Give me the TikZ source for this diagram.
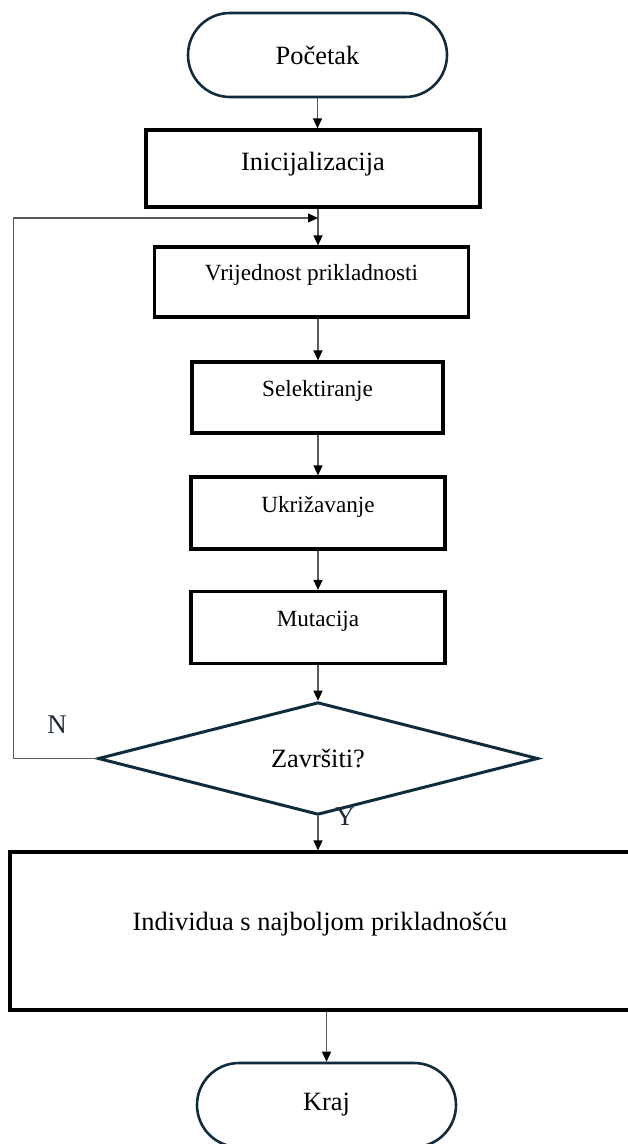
\documentclass[tikz,border=0pt]{standalone}
\usepackage{fontspec}
\setmainfont{Liberation Serif}
\usepackage{tikz}
\usetikzlibrary{shapes.geometric,arrows.meta,calc}
\definecolor{outline}{HTML}{102C3C}
\definecolor{linegray}{HTML}{5A5A5A}
\definecolor{labelink}{HTML}{1C2A3A}

\begin{document}
\begin{tikzpicture}[x=1pt,y=-1pt]
                      \tikzstyle{terminal}=[rectangle,rounded corners=42pt,draw=outline,line width=2.6pt,minimum width=259pt,minimum height=84pt,inner sep=0pt,font=\fontsize{26.4}{30}\selectfont]
                      \tikzstyle{process}=[rectangle,draw=black,line width=3.2pt,inner sep=0pt,font=\fontsize{23.2}{27}\selectfont]
                      \tikzstyle{decision}=[diamond,draw=outline,line width=3pt,minimum width=440pt,minimum height=92pt,inner sep=0pt,font=\fontsize{26.4}{30}\selectfont]
                      \tikzstyle{conn}=[draw=linegray,line width=1.3pt,-{Triangle[length=10pt,width=9pt,color=black]}]
                      \tikzstyle{answer}=[text=labelink,inner sep=0pt,font=\fontsize{27}{30}\selectfont]
                      \useasboundingbox (0,0) rectangle (627,1144);
                      \node[terminal] (start) at (317.5,55) {Početak};
                      \node[process,minimum width=334pt,text height=40pt,text depth=37pt,font=\fontsize{26.4}{30}\selectfont] (init) at (313,168.5) {Inicijalizacija};
                      \node[process,minimum width=314pt,text height=33pt,text depth=37pt] (fit) at (311.5,282) {Vrijednost prikladnosti};
                      \node[process,minimum width=251pt,text height=34pt,text depth=37pt] (sel) at (317.5,397.5) {Selektiranje};
                      \node[process,minimum width=254pt,text height=35pt,text depth=37pt] (cross) at (318,513) {Ukrižavanje};
                      \node[process,minimum width=254pt,text height=35pt,text depth=37pt] (mut) at (318,627.5) {Mutacija};
                      \node[decision] (stop) at (318,758.5) {Završiti?};
                      \node[process,minimum width=620pt,text height=78pt,text depth=80pt,font=\fontsize{26.4}{30}\selectfont] (best) at (320,931) {Individua s najboljom prikladnošću};
                      \node[terminal] (end) at (326.5,1105) {Kraj};
                      \node[answer] (no) at (57,725) {N};
                      \node[answer] (yes) at (345,817) {Y};
                      \coordinate (merge) at (318,218);
                      \draw[conn] (start) -- (start |- init.north);
                      \draw[conn] (init.south -| merge) -- (fit.north -| merge);
                      \draw[conn] (fit.south -| merge) -- (sel.north -| merge);
                      \draw[conn] (sel.south -| merge) -- (cross.north -| merge);
                      \draw[conn] (cross) -- (mut);
                      \draw[conn] (mut) -- (stop);
                      \draw[conn] (stop) -- (stop |- best.north);
                      \draw[conn] (best.south -| end) -- (end);
                      \draw[conn] (stop.west) -- ++(-83,0) |- (merge);
                  \end{tikzpicture}
\end{document}
